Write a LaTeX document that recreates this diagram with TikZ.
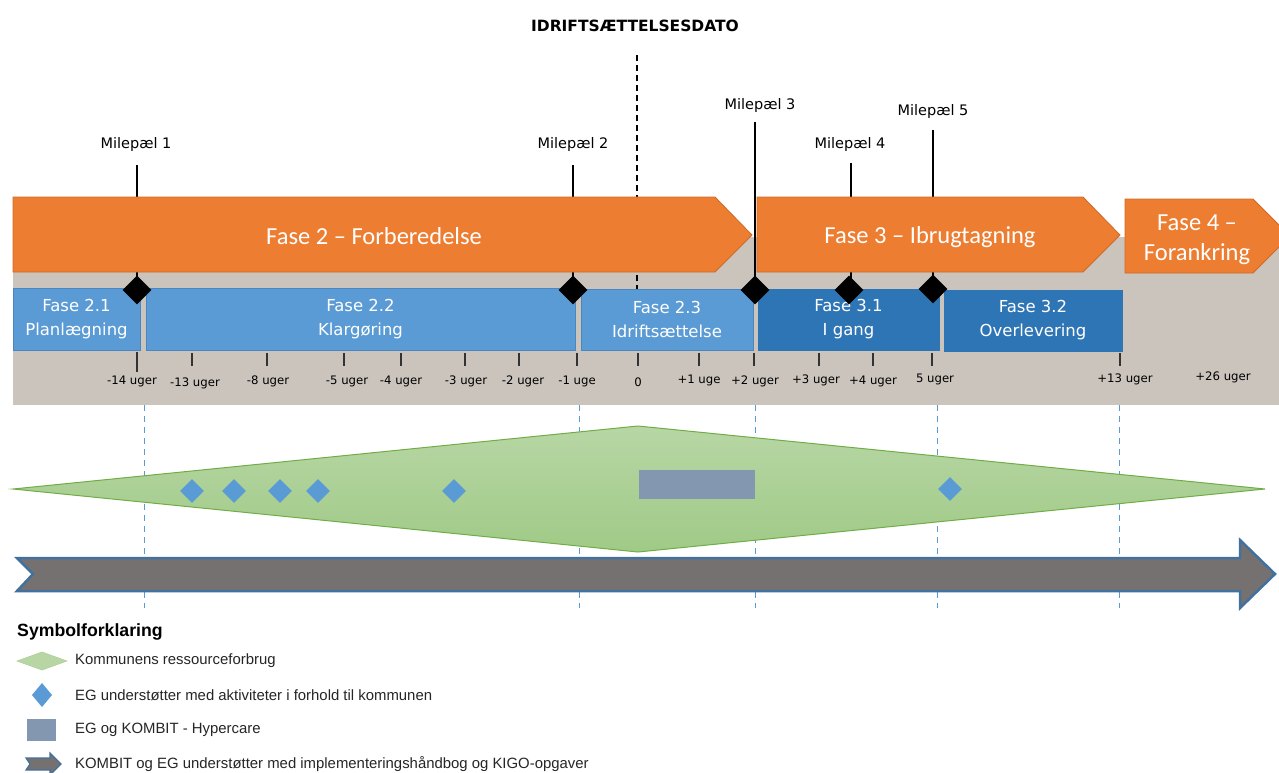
\documentclass[tikz,border=0pt]{standalone}
\usepackage{fontspec}
\setmainfont{DejaVu Sans}
\newfontfamily\calib{Carlito}
\newfontfamily\arialf{Liberation Sans}
\usetikzlibrary{shapes.geometric}
\definecolor{orng}{HTML}{ED7D31}
\definecolor{orngb}{HTML}{CF6A26}
\definecolor{bandgray}{HTML}{CAC4BD}
\definecolor{blueA}{HTML}{5B9BD5}
\definecolor{blueAb}{HTML}{4A86BF}
\definecolor{blueB}{HTML}{2E75B6}
\definecolor{greentop}{HTML}{B7D6A4}
\definecolor{greenbot}{HTML}{A0CA87}
\definecolor{greenb}{HTML}{70AD47}
\definecolor{hyper}{HTML}{8497B0}
\definecolor{arrowgray}{HTML}{767171}
\definecolor{arrowb}{HTML}{41719C}
\begin{document}
\begin{tikzpicture}[x=1pt,y=-1pt,
  mslabel/.style={font=\fontsize{14.5}{17}\selectfont, text=black, inner sep=0},
  msline/.style={line width=1.6pt, black},
  tlabel/.style={font=\fontsize{11.7}{13}\selectfont, text=black, inner sep=0},
  tickline/.style={line width=1.3pt, black!80},
  phasebox/.style={draw=blueAb, line width=0.8pt, fill=blueA, text=white, align=center,
     font=\fontsize{16.5}{24}\selectfont, inner sep=0},
  phaseboxdark/.style={phasebox, fill=blueB, draw=blueB},
  orangearrow/.style={fill=orng, draw=orngb, line width=0.8pt},
  orangetext/.style={font=\calib\fontsize{24.5}{30}\selectfont, text=white, align=center, inner sep=0},
  msdiamond/.style={diamond, fill=black, minimum width=29, minimum height=29, inner sep=0},
  egdiamond/.style={diamond, fill=blueA, minimum width=24, minimum height=24, inner sep=0},
  guide/.style={blueA, line width=1pt, dash pattern=on 6pt off 5pt},
  legtext/.style={font=\arialf\fontsize{14.9}{17}\selectfont, anchor=west, inner sep=0, text=black!85}
]
\useasboundingbox (0,0) rectangle (1279,772);
\clip (0,0) rectangle (1279,772);
\fill[white] (0,0) rectangle (1279,772);

% title
\node[font=\bfseries\fontsize{15.5}{18}\selectfont, inner sep=0] (title) at (635,26) {IDRIFTSÆTTELSESDATO};

% gray band
\fill[bandgray] (13,237) rectangle (1279,405);

% coordinates for lines
\coordinate (idtop) at (637,55);
\coordinate (idbot) at (637,290);
\draw[black, line width=1.6pt, dash pattern=on 6pt off 4pt] (idtop) -- (idbot);

% milestone labels
\node[mslabel] (ml1) at (136,144) {Milepæl 1};
\node[mslabel] (ml2) at (573,144) {Milepæl 2};
\node[mslabel] (ml3) at (760,105) {Milepæl 3};
\node[mslabel] (ml4) at (850,144) {Milepæl 4};
\node[mslabel] (ml5) at (933,111) {Milepæl 5};

\coordinate (m1t) at (137,165);
\coordinate (m2t) at (573,165);
\coordinate (m3t) at (755,122);
\coordinate (m4t) at (851,163);
\coordinate (m5t) at (933,130);

\coordinate (m1b) at (137,290);
\coordinate (m2b) at (573,290);
\coordinate (m3b) at (755,290);
\coordinate (m4b) at (851,290);
\coordinate (m5b) at (933,289);

\draw[msline] (m1t) -- (m1b);
\draw[msline] (m2t) -- (m2b);
\draw[msline] (m4t) -- (m4b);
\draw[msline] (m5t) -- (m5b);

% orange phase arrows
\draw[orangearrow] (13,197) -- (715,197) -- (752,235) -- (715,272) -- (13,272) -- cycle;
\draw[orangearrow] (757,197) -- (1083,197) -- (1120,235) -- (1083,272) -- (757,272) -- cycle;
\draw[orangearrow] (1125,199) -- (1253,199) -- (1290,236) -- (1253,273) -- (1125,273) -- cycle;
\node[orangetext] (f2) at (374,236) {Fase 2 – Forberedelse};
\node[orangetext] (f3) at (930,237) {Fase 3 – Ibrugtagning};
\node[orangetext] (f4) at (1197,240) {Fase 4 –\\Forankring};

\draw[msline] (m3t) -- (m3b);

% blue sub-phase boxes
\node[phasebox, minimum width=127, minimum height=62] (f21) at (76.5,319) {Fase 2.1\\Planlægning};
\node[phasebox, minimum width=429, minimum height=62] (f22) at (360.5,319) {Fase 2.2\\Klargøring};
\node[phasebox, minimum width=172, minimum height=61] (f23) at (667,319.5) {Fase 2.3\\Idriftsættelse};
\node[phaseboxdark, minimum width=181, minimum height=61] (f31) at (848.5,319.5) {Fase 3.1\\I gang};
\node[phaseboxdark, minimum width=178, minimum height=61] (f32) at (1033,320.5) {Fase 3.2\\Overlevering};

% milestone diamonds
\node[msdiamond] (d1) at (m1b) {};
\node[msdiamond] (d2) at (m2b) {};
\node[msdiamond] (d3) at (m3b) {};
\node[msdiamond] (d4) at (849,290) {};
\node[msdiamond] (d5) at (m5b) {};

% ticks
\draw[tickline] (137,352) -- (137,372);
\foreach \tx in {192,267,344,401,465,519,577,638,699,754,819,873,932,1120}
  \draw[tickline] (\tx,353) -- (\tx,366);

% tick labels
\node[tlabel] (t1) at (132,381) {-14 uger};
\node[tlabel] (t2) at (195,383) {-13 uger};
\node[tlabel] (t3) at (268,381) {-8 uger};
\node[tlabel] (t4) at (347,381) {-5 uger};
\node[tlabel] (t5) at (401,381) {-4 uger};
\node[tlabel] (t6) at (466,381) {-3 uger};
\node[tlabel] (t7) at (523,381) {-2 uger};
\node[tlabel] (t8) at (577,381) {-1 uge};
\node[tlabel] (t9) at (638,382) {0};
\node[tlabel] (t10) at (699,380) {+1 uge};
\node[tlabel] (t11) at (755,381) {+2 uger};
\node[tlabel] (t12) at (816,380) {+3 uger};
\node[tlabel] (t13) at (873,381) {+4 uger};
\node[tlabel] (t14) at (935,379) {5 uger};
\node[tlabel] (t15) at (1125,379) {+13 uger};
\node[tlabel] (t16) at (1223,377) {+26 uger};

% blue dashed guides
\foreach \gx in {144,579,755,937,1119}
  \draw[guide] (\gx,405) -- (\gx,608);

% green resource diamond
\shadedraw[top color=greentop, bottom color=greenbot, draw=greenb, line width=1pt]
  (13,489) -- (638,426) -- (1265,489) -- (638,552) -- cycle;

% hypercare
\fill[hyper] (639,470) rectangle (755,499);

% EG diamonds
\node[egdiamond] (e1) at (192,491) {};
\node[egdiamond] (e2) at (234,491) {};
\node[egdiamond] (e3) at (280,491) {};
\node[egdiamond] (e4) at (318,491) {};
\node[egdiamond] (e5) at (454,491) {};
\node[egdiamond] (e6) at (950,489) {};

% big arrow
\draw[fill=arrowgray, draw=arrowb, line width=2.5pt, line join=miter]
  (17,558) -- (1240,558) -- (1240,540) -- (1275,574) -- (1240,608) -- (1240,591) -- (17,591) -- (33,574) -- cycle;

% legend
\node[font=\arialf\bfseries\fontsize{17.7}{20}\selectfont, anchor=west, inner sep=0] (legtitle) at (17,632) {Symbolforklaring};
\fill[greentop, draw=greenb!60, line width=0.5pt] (17,661) -- (42,652) -- (67,661) -- (42,670) -- cycle;
\node[legtext] (l1) at (75,661) {Kommunens ressourceforbrug};
\fill[blueA] (42,683) -- (52,695) -- (42,707) -- (32,695) -- cycle;
\node[legtext] (l2) at (75,695) {EG understøtter med aktiviteter i forhold til kommunen};
\fill[hyper] (27,719) rectangle (56,741);
\node[legtext] (l3) at (75,730) {EG og KOMBIT - Hypercare};
\draw[fill=arrowgray, draw=arrowb, line width=1.2pt]
  (26,758) -- (50,758) -- (50,753) -- (61,764) -- (50,775) -- (50,770) -- (26,770) -- (30,764) -- cycle;
\node[legtext] (l4) at (75,764) {KOMBIT og EG understøtter med implementeringshåndbog og KIGO-opgaver};
\end{tikzpicture}
\end{document}
